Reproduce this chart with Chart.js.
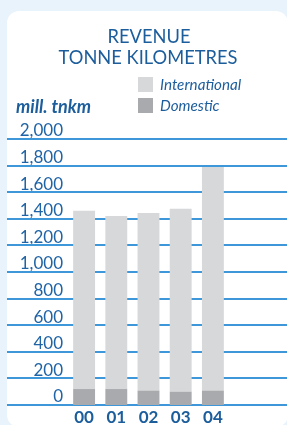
<!DOCTYPE html>
<html>
<head>
<meta charset="utf-8">
<script src="https://cdn.jsdelivr.net/npm/chart.js@4/dist/chart.umd.min.js"></script>
<style>
  html,body{margin:0;padding:0;background:#e8f3fb;}
  #wrap{width:287px;height:425px;position:relative;}
</style>
</head>
<body>
<div id="wrap"><canvas id="c" width="287" height="425"></canvas></div>
<script>
const categories = ['00', '01', '02', '03', '04'];
const domestic = [120, 120, 108, 100, 108];
const international = [1341, 1301, 1336, 1376, 1681];
const yTicks = [0, 200, 400, 600, 800, 1000, 1200, 1400, 1600, 1800, 2000];
const titleLines = ['REVENUE', 'TONNE KILOMETRES'];
const unitLabel = 'mill. tnkm';
const seriesNames = ['International', 'Domestic'];

const BLUE_TEXT = '#1c5d9c';
const GRID = '#3d97d8';
const C_INT = '#d7d8da';
const C_DOM = '#a9aaad';

const decor = {
  id: 'decor',
  beforeDraw(chart) {
    const ctx = chart.ctx;
    ctx.save();
    ctx.fillStyle = '#e8f3fb';
    ctx.fillRect(0, 0, chart.width, chart.height);
    ctx.fillStyle = '#ffffff';
    ctx.beginPath();
    ctx.roundRect(7, 11, 281, 416, 12);
    ctx.fill();
    // title
    ctx.fillStyle = BLUE_TEXT;
    ctx.textAlign = 'center';
    ctx.textBaseline = 'middle';
    ctx.font = '18.3px Lato';
    ctx.fillText(titleLines[0], 149, 37);
    ctx.fillText(titleLines[1], 148, 58);
    // unit
    ctx.textAlign = 'left';
    ctx.font = 'italic bold 18px Lato';
    ctx.fillText(unitLabel, 16, 107);
    // legend (from datasets)
    const ds = chart.data.datasets;
    const order = [1, 0];
    const ys = [84, 105];
    ctx.font = 'italic 15.2px Lato';
    order.forEach((di, i) => {
      ctx.fillStyle = ds[di].backgroundColor;
      ctx.fillRect(138, ys[i] - 7, 15, 15);
      ctx.fillStyle = BLUE_TEXT;
      ctx.fillText(ds[di].label, 160, ys[i] + 1);
    });
    ctx.restore();
  },
  beforeDatasetsDraw(chart) {
    const ctx = chart.ctx;
    const y = chart.scales.y;
    ctx.save();
    ctx.strokeStyle = GRID;
    ctx.lineWidth = 2;
    y.ticks.forEach(t => {
      const py = Math.round(y.getPixelForValue(t.value));
      ctx.beginPath();
      ctx.moveTo(7, py);
      ctx.lineTo(287, py);
      ctx.stroke();
    });
    ctx.restore();
  }
};

new Chart(document.getElementById('c'), {
  type: 'bar',
  data: {
    labels: categories,
    datasets: [
      { label: seriesNames[1], data: domestic, backgroundColor: C_DOM, stack: 's' },
      { label: seriesNames[0], data: international, backgroundColor: C_INT, stack: 's' }
    ]
  },
  options: {
    responsive: false,
    animation: false,
    devicePixelRatio: 1,
    layout: { padding: { top: 139, right: 58, bottom: 0, left: 0 } },
    plugins: { legend: { display: false }, title: { display: false }, tooltip: { enabled: false } },
    datasets: { bar: { categoryPercentage: 1, barPercentage: 0.68 } },
    scales: {
      x: {
        stacked: true,
        grid: { display: false, drawTicks: false },
        border: { display: false },
        ticks: { color: BLUE_TEXT, font: { family: 'Lato', size: 17, weight: 'bold', lineHeight: 1.1 }, padding: 3.5, autoSkip: false, maxRotation: 0 },
        afterFit: s => { s.height = 20; }
      },
      y: {
        stacked: true,
        min: 0, max: 2000,
        afterBuildTicks: s => { s.ticks = yTicks.map(v => ({ value: v })); },
        grid: { display: false, drawTicks: false },
        border: { display: false },
        ticks: {
          color: '#2064a6',
          font: { family: 'Lato', size: 17 },
          padding: 5,
          labelOffset: -8,
          callback: v => v.toLocaleString('en-US')
        },
        afterFit: s => { s.width = 68; }
      }
    }
  },
  plugins: [decor]
});
</script>
</body>
</html>
